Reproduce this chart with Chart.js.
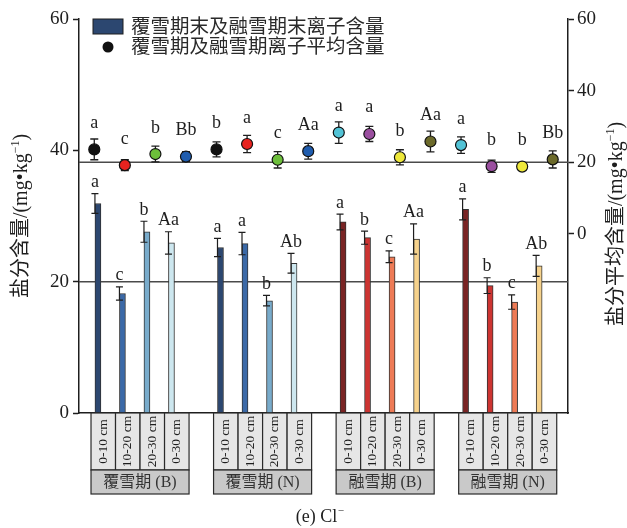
<!DOCTYPE html>
<html>
<head>
<meta charset="utf-8">
<script src="https://cdn.jsdelivr.net/npm/chart.js@4/dist/chart.umd.min.js"></script>
<style>
  html, body { margin: 0; padding: 0; background: #ffffff; }
  #wrap { width: 627px; height: 528px; }
</style>
</head>
<body>
<div id="wrap"><canvas id="c" width="627" height="528"></canvas></div>
<script>
// Soil depth layers and sampling periods
const depthLabels = ['0-10 cm', '10-20 cm', '20-30 cm', '0-30 cm'];
const periodLabels = ['覆雪期 (B)', '覆雪期 (N)', '融雪期 (B)', '融雪期 (N)'];

// Cl- content at end of snow-cover / snow-melt period (left axis)
const barValues  = [31.9, 18.2, 27.6, 25.9, 25.2, 25.8, 17.1, 22.8, 29.1, 26.7, 23.8, 26.5, 31.0, 19.4, 16.9, 22.4];
const barErrors  = [1.5, 1.0, 1.6, 1.7, 1.4, 1.7, 0.8, 1.5, 1.2, 1.0, 0.9, 2.3, 1.6, 1.2, 1.1, 1.6];
const barLetters = ['a', 'c', 'b', 'Aa', 'a', 'a', 'b', 'Ab', 'a', 'b', 'c', 'Aa', 'a', 'b', 'c', 'Ab'];

// Mean Cl- content during snow-cover / snow-melt period (right axis)
const meanValues  = [23.6, 19.2, 22.3, 21.6, 23.6, 25.1, 20.7, 23.1, 28.3, 27.9, 21.4, 25.8, 24.8, 18.9, 18.8, 20.8];
const meanErrors  = [2.9, 1.5, 2.2, 1.4, 2.1, 2.4, 2.3, 2.2, 3.0, 2.1, 2.1, 2.9, 2.3, 1.7, 1.0, 2.4];
const meanLetters = ['a', 'c', 'b', 'Bb', 'b', 'a', 'c', 'Aa', 'a', 'a', 'b', 'Aa', 'a', 'b', 'b', 'Bb'];

// Axis ranges and reference levels
const leftRange  = [0, 60];
const rightRange = [-50, 60];
const refLeft  = 20;
const refRight = 20;

const seriesNames = ['覆雪期末及融雪期末离子含量', '覆雪期及融雪期离子平均含量'];

const blueShades = ['#2c4770', '#3b69a7', '#78abcb', '#cde7ef'];
const redShades  = ['#7a2424', '#cd3431', '#ee7b56', '#f6d28c'];
const barColors  = [...blueShades, ...blueShades, ...redShades, ...redShades];
const meanColors = ['#111111', '#e8231f', '#6dbf3b', '#1f5cae', '#111111', '#e8231f', '#6dbf3b', '#1f5cae',
                    '#52c3d6', '#9a4f9f', '#eee83a', '#6c6a2a', '#52c3d6', '#9a4f9f', '#eee83a', '#6c6a2a'];

// Bars sit in groups of four with one empty slot between groups
const barPositions = barValues.map((_, i) => Math.floor(i / 4) * 5 + (i % 4));
const pointSlots = meanValues.map((_, i) => String(i));

const SERIF = "'Liberation Serif', 'Noto Sans CJK SC'";
const CJK = "'Noto Sans CJK SC', 'Liberation Serif'";
const INK = '#1e1e1e';

function drawRich(ctx, parts, cx, cy, rotate) {
  ctx.save();
  ctx.translate(cx, cy);
  if (rotate) ctx.rotate(-Math.PI / 2);
  let total = 0;
  parts.forEach(p => {
    ctx.font = p.size + 'px ' + (p.family || SERIF);
    p.w = ctx.measureText(p.t).width;
    total += p.w;
  });
  let x = -total / 2;
  ctx.textAlign = 'left';
  ctx.textBaseline = 'alphabetic';
  ctx.fillStyle = INK;
  parts.forEach(p => {
    ctx.font = p.size + 'px ' + (p.family || SERIF);
    ctx.fillText(p.t, x, (p.dy || 0) + 7);
    x += p.w;
  });
  ctx.restore();
}

const decor = {
  id: 'decor',
  beforeDatasetsDraw(chart) {
    const {ctx, chartArea, scales} = chart;
    ctx.save();
    // reference levels
    ctx.strokeStyle = '#4a4a4a';
    ctx.lineWidth = 1.5;
    [scales.y.getPixelForValue(refLeft), scales.y2.getPixelForValue(refRight)].forEach(py => {
      ctx.beginPath();
      ctx.moveTo(chartArea.left, py);
      ctx.lineTo(chartArea.right, py);
      ctx.stroke();
    });
    // whiskers of the mean points (drawn behind markers)
    ctx.strokeStyle = INK;
    ctx.lineWidth = 1.3;
    meanValues.forEach((v, i) => {
      const px = scales.xp.getPixelForValue(i);
      const t = scales.y2.getPixelForValue(v + meanErrors[i]);
      const b = scales.y2.getPixelForValue(v - meanErrors[i]);
      ctx.beginPath();
      ctx.moveTo(px, t); ctx.lineTo(px, b);
      ctx.moveTo(px - 4, t); ctx.lineTo(px + 4, t);
      ctx.moveTo(px - 4, b); ctx.lineTo(px + 4, b);
      ctx.stroke();
    });
    ctx.restore();
  },
  afterDatasetsDraw(chart) {
    const {ctx, chartArea, scales} = chart;
    ctx.save();
    // bar whiskers
    ctx.strokeStyle = INK;
    ctx.lineWidth = 1.2;
    barValues.forEach((v, i) => {
      const px = scales.xb.getPixelForValue(barPositions[i]);
      const t = scales.y.getPixelForValue(v + barErrors[i]);
      const b = scales.y.getPixelForValue(v - barErrors[i]);
      ctx.beginPath();
      ctx.moveTo(px, t); ctx.lineTo(px, b);
      ctx.moveTo(px - 3.5, t); ctx.lineTo(px + 3.5, t);
      ctx.moveTo(px - 3.5, b); ctx.lineTo(px + 3.5, b);
      ctx.stroke();
    });
    // significance letters
    ctx.fillStyle = INK;
    ctx.font = '18px ' + SERIF;
    ctx.textAlign = 'center';
    ctx.textBaseline = 'alphabetic';
    barValues.forEach((v, i) => {
      const px = scales.xb.getPixelForValue(barPositions[i]);
      const t = scales.y.getPixelForValue(v + barErrors[i]);
      ctx.fillText(barLetters[i], px, t - 6.5);
    });
    meanValues.forEach((v, i) => {
      const px = scales.xp.getPixelForValue(i);
      const c = scales.y2.getPixelForValue(v);
      ctx.fillText(meanLetters[i], px, c - 21.5);
    });

    // category boxes under the axis
    const boxShift = 0.34;
    const top = chartArea.bottom;
    const depthH = 57, periodH = 24;
    ctx.lineWidth = 1.2;
    ctx.strokeStyle = '#2a2a2a';
    periodLabels.forEach((pl, g) => {
      const first = barPositions[g * 4], last = barPositions[g * 4 + 3];
      const gl = scales.xb.getPixelForValue(first + boxShift - 0.5);
      const gr = scales.xb.getPixelForValue(last + boxShift + 0.5);
      depthLabels.forEach((dl, d) => {
        const pos = barPositions[g * 4 + d];
        const l = scales.xb.getPixelForValue(pos + boxShift - 0.5);
        const r = scales.xb.getPixelForValue(pos + boxShift + 0.5);
        ctx.fillStyle = '#e6e6e6';
        ctx.fillRect(l, top, r - l, depthH);
        ctx.strokeRect(l, top, r - l, depthH);
        ctx.save();
        ctx.translate((l + r) / 2, top + depthH / 2);
        ctx.rotate(-Math.PI / 2);
        ctx.fillStyle = INK;
        ctx.font = '13.5px ' + SERIF;
        ctx.textAlign = 'center';
        ctx.textBaseline = 'middle';
        ctx.fillText(dl, 0, 0);
        ctx.restore();
      });
      ctx.fillStyle = '#c9c9c9';
      ctx.fillRect(gl, top + depthH, gr - gl, periodH);
      ctx.strokeRect(gl, top + depthH, gr - gl, periodH);
      ctx.fillStyle = '#333333';
      ctx.font = '16px ' + SERIF;
      ctx.textAlign = 'center';
      ctx.textBaseline = 'middle';
      ctx.fillText(pl, (gl + gr) / 2, top + depthH + periodH / 2 + 1);
    });

    // legend
    const lx = chartArea.left + 14;
    ctx.fillStyle = barColors[0];
    ctx.fillRect(lx, 19, 30, 15);
    ctx.strokeStyle = INK;
    ctx.lineWidth = 1;
    ctx.strokeRect(lx, 19, 30, 15);
    ctx.beginPath();
    ctx.arc(lx + 15, 47, 5.5, 0, Math.PI * 2);
    ctx.fillStyle = '#111111';
    ctx.fill();
    ctx.fillStyle = '#2a2a2a';
    ctx.font = '19.5px ' + CJK;
    ctx.textAlign = 'left';
    ctx.textBaseline = 'middle';
    ctx.fillText(seriesNames[0], lx + 38, 26);
    ctx.fillText(seriesNames[1], lx + 38, 46);

    // axis titles
    const midY = (chartArea.top + chartArea.bottom) / 2;
    drawRich(ctx, [
      {t: '盐分含量/(mg•kg', size: 20},
      {t: '−1', size: 12, dy: -8},
      {t: ')', size: 20}
    ], 20, midY, true);
    drawRich(ctx, [
      {t: '盐分平均含量/(mg•kg', size: 20},
      {t: '−1', size: 12, dy: -8},
      {t: ')', size: 20}
    ], 615, midY + 8, true);

    // caption
    ctx.save();
    ctx.fillStyle = INK;
    ctx.font = '18px ' + SERIF;
    ctx.textAlign = 'left';
    ctx.textBaseline = 'alphabetic';
    const cap = '(e) Cl';
    const cw = ctx.measureText(cap).width;
    const cx0 = 320 - (cw + 7) / 2;
    ctx.fillText(cap, cx0, 522);
    ctx.font = '11px ' + SERIF;
    ctx.fillText('−', cx0 + cw + 0.5, 514);
    ctx.restore();

    ctx.restore();
  }
};

const tickFont = {family: "'Liberation Serif'", size: 19};

new Chart(document.getElementById('c'), {
  type: 'bar',
  data: {
    datasets: [
      {
        type: 'line',
        label: seriesNames[1],
        data: meanValues,
        xAxisID: 'xp',
        yAxisID: 'y2',
        showLine: false,
        pointRadius: 5.5,
        pointBackgroundColor: meanColors,
        pointBorderColor: '#111111',
        pointBorderWidth: 1.2,
        order: 0
      },
      {
        type: 'bar',
        label: seriesNames[0],
        data: barValues.map((v, i) => ({x: barPositions[i], y: v})),
        xAxisID: 'xb',
        yAxisID: 'y',
        backgroundColor: barColors,
        borderColor: '#333333',
        borderWidth: 1,
        barThickness: 6,
        order: 1
      }
    ]
  },
  options: {
    responsive: false,
    animation: false,
    devicePixelRatio: 1,
    layout: {padding: {left: 0, right: 0, top: 19, bottom: 115}},
    plugins: {legend: {display: false}, tooltip: {enabled: false}},
    scales: {
      xb: {
        type: 'linear',
        position: 'bottom',
        min: -0.65,
        max: 19.3,
        offset: false,
        grid: {display: false, drawTicks: false, offset: false},
        ticks: {display: false},
        border: {display: true, color: INK, width: 1.5},
        afterFit(s) { s.height = 0; }
      },
      xp: {
        type: 'category',
        labels: pointSlots,
        offset: true,
        display: false
      },
      y: {
        position: 'left',
        min: leftRange[0],
        max: leftRange[1],
        ticks: {stepSize: 20, color: INK, font: tickFont, padding: 4},
        grid: {drawOnChartArea: false, tickLength: 6, tickColor: INK, tickWidth: 1.5},
        border: {display: true, color: INK, width: 1.5},
        afterFit(s) { s.width = 79; }
      },
      y2: {
        position: 'right',
        min: rightRange[0],
        max: rightRange[1],
        ticks: {stepSize: 20, color: INK, font: tickFont, padding: 3},
        afterBuildTicks(s) { s.ticks = s.ticks.filter(t => t.value >= 0); },
        grid: {drawOnChartArea: false, tickLength: 6, tickColor: INK, tickWidth: 1.5},
        border: {display: true, color: INK, width: 1.5},
        afterFit(s) { s.width = 59; }
      }
    }
  },
  plugins: [decor]
});
</script>
</body>
</html>
